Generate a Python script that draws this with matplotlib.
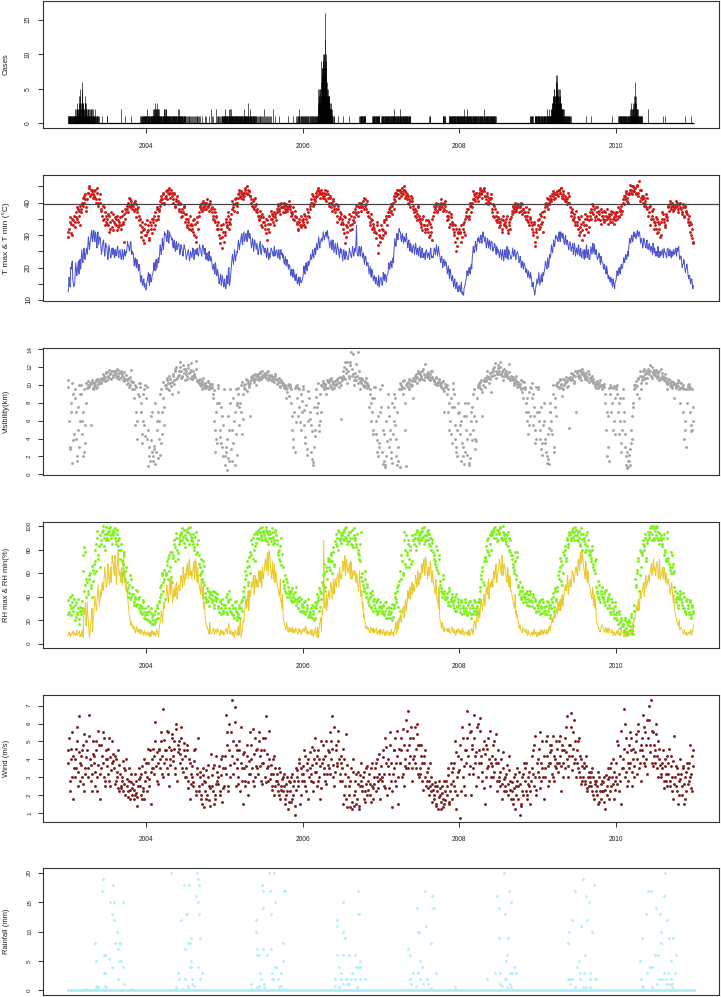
import matplotlib
matplotlib.use('Agg')
import matplotlib.pyplot as plt
import matplotlib.dates as mdates
import numpy as np
import pandas as pd

plt.rcParams['font.family'] = ['Liberation Sans', 'DejaVu Sans']

years = list(range(2003, 2011))
days_a = [3, 8, 13, 18, 23, 28]     # first set of readings kept per month
days_b = [1, 6, 11, 16, 21, 26]     # second set
tick_years = [2004, 2006, 2008, 2010]

# daily case counts, one string per month, one char per day (base 36), missing days = 0
case_months = {
    2003: ["1101101110110101101110110111011", "1121011212132121124213215314",
           "2132413563213212124131332121211", "121112112012110121120121111210",
           "1101201011010010110100100010000", "00000001", "0101", "",
           "002000000000000000000001", "000000000000000000000001", "",
           "0001001010011010110101101011011"],
    2004: ["1101201101101101011011110110101", "11212112301212212131021212112",
           "1101101011010110110101120212112", "210110110101101011010110110110",
           "1011010110101101011010110121011", "102011010110101101011010110101",
           "0100010010001000100100010001000", "0010001000100010001000100010010",
           "000100000100001000000000000001", "0000001000000000000001000000020",
           "000100001000000000000200010001", "0100010001000100011011011011011"],
    2005: ["1211011011101101101121010112011", "2110110110110110111011011011",
           "1101101101011011010110111011011", "112110110111011013101101101101",
           "2101101010110101101001010100100", "010001000100010010010001001000",
           "0000200010001000100010000100010", "0001000000000020000000001",
           "000000000100", "0000000000000000000001",
           "000000000000001000000000000010", "0001001010010201001010100101001"],
    2006: ["0101001010010100101001010010100", "1010010100101001010010100101",
           "0100101011123524354325453469578", "7896a89a7a8796gc8a974546445434",
           "4434323222312121101010010001", "00000000000100", "000000001", "001",
           "0000000000000000000001011010110", "1101011010110101101",
           "0000000000000000000101101011011", "1011010110101101011010110"],
    2007: ["0101101011010110101101011010110", "1101101011010110101101011012",
           "1011010110101101011010110101021", "101101011010110101101011010110",
           "1011010110101101010", "", "", "0000000000001011", "",
           "0000000000000001011010110100000", "000000000000011010110110101101",
           "1011011010110110101101101011011"],
    2008: ["1101101011011010110121011011010", "10110121101101011011011011010",
           "1011010110101101011011010110100", "010110110101101011010102011010",
           "1011010110101101011010110101101", "10110101101011010100", "", "", "", "",
           "000000000000000000000000010110", "1011010100000000110101101101011"],
    2009: ["1011010110101101011010110101101", "1011010110112101101101121011",
           "1121213232324345344542434657647", "654543432543543432323222121212",
           "1211011010110101101011010110101", "101", "", "0000000000000001",
           "00000001", "", "", "00000000000001"],
    2010: ["0000000000101101011010110101101", "1011010110101101011010110101",
           "1011010121121312121213213141324", "634231212121121011011010110110",
           "0101000000000000000000000000002", "", "", "0000001000000000000100000000000",
           "", "", "0000000000000000000010000000000", "0000000000000000001000000000000"],
}

# each block: one line per year, 12 months x 6 readings
tmax_a = """
31 34 30.5 35 33 36  34 37 35 38 36 33  38 40 39 42 41 38.5  43 44.5 42 44 43.5 42.5  42 44 41 43 40 42.5  38 36 39 35 37 34  35 33 36 32 34.5 31.5  34 35.5 33 36 32.5 34  33 36 34 28 35 37  38 40 39 41 39.5 38  40 38 39.5 37 38.5 36  33 31 34 28.5 32 30
31 33 29 34 32 35  34 36 33 38 35 37.5  39 41 40 42.5 39.5 41.5  42 44 43 44.5 41.5 43  41 42.5 39 40.5 42 39.5  38 39.5 37 36 38.5 36.5  35 33 34 32 36 33.5  33 31 35 28 34 32  37 39 38 40 38.5 39.5  39 40 38.5 39.5 40.5 38  37 35 38 34 36 33  32 29 33 26 31 28
31 34 33 36 32 35  38 39.5 37.5 41 40 39  41.5 43 42 43.5 42.5 41  43 44.5 42.5 44 43.5 42  41 39 40.5 38 41.5 39.5  37 35 36 33 36.5 34  34 32 35 28.5 33.5 31  35 36.5 34 37 35.5 34.5  38 39 37.5 39.5 38.5 37  39 38 39.5 37.5 38.5 39  38 36 37 35 37.5 35.5  34 32 35 33 32.5 34.5
35 33 36 34 37 35.5  39 41 40 42 39.5 41.5  42 43.5 44 42.5 43 44  42 43 41 42.5 43.5 41.5  40 41.5 38.5 39.5 41 38  38 36 39 35 37 36.5  34 32 36 27.5 33 31  35 33 36 32 34.5 35.5  37 39 36 38.5 39.5 37.5  39 40.5 38 41 39.5 37  36 34 35 32 33.5 31  31 29 33 24.5 30 28
32 30 34 31 35 33  37 36 38.5 37.5 39 38  41 43 42 44 42.5 43.5  43 44.5 42.5 44 43.5 42  41 42 39.5 40.5 41.5 39  37 38 35.5 36.5 38.5 35  34 32.5 35 33 32 34.5  33 31 34 30 32.5 28.5  37 38.5 39 37.5 39.5 38  39 40 38.5 39.5 38 40.5  36 35 37 33.5 36.5 34  32 30 33 25 29 31
31 33 29.5 32 34 30  36 38 35 39 37 38.5  41 42.5 40.5 43 41.5 42  43 44 42.5 43.5 44.5 42  41 42 40.5 41.5 40 42.5  38 36 39 34.5 37 35  34 33 35 32 34.5 33.5  33 35 31.5 34 32 35.5  37.5 38.5 37 39 38 39.5  38.5 39 37.5 39.5 38 37  37 35 36 34 38 35.5  33 31 34 26.5 32 29.5
33 35 32.5 36 34 35.5  38.5 40 39 41 39.5 40.5  41 42.5 42 43 41.5 42.5  42.5 44 43 44.5 42 43.5  41 42 40.5 41.5 40 42  37 38 35 36.5 34 37.5  34 32 35 31 33.5 28.5  33 35 32 36 31 34.5  36 38 37 39 35.5 38.5  37 35 36.5 34.5 38 36  36 34 37 35 33.5 36.5  35 36.5 34 37 35.5 34.5
36 37 35.5 38 36.5 37.5  40 42 41 43 40.5 42.5  42.5 44 43 45 43.5 44.5  43 45 42 46.5 44 41.5  41 42 39 40.5 38.5 41.5  37 39 35 36 38 34  34 32 35 31 33.5 30  35 36.5 34 33 36 35.5  38.5 39.5 38 40 39 38.5  39 38.5 40 38 39.5 38.5  37 38.5 36 39 37.5 36.5  35 33 34 30 32 28
"""
tmax_b = """
29.5 32 35.5 33.5 30 34.5  32.5 35.5 38.5 34 37.5 39  37 39.5 41.5 40 42.5 37.5  41 43 45 42.5 44 41.5  43.5 41.5 40 44.5 39 41  40 37.5 34.5 38.5 33 36  33.5 36.5 31 34 37 32.5  36.5 33.5 35 31.5 34.5 33  35.5 32 37.5 33.5 36.5 38  39 37 41.5 38.5 40.5 39  39 37.5 40.5 35.5 38 34.5  35 29.5 32.5 31.5 27.5 33.5
30 34.5 31.5 28.5 33 30.5  35 32 37 34.5 38.5 36  38 40.5 42 41 43 40  43.5 41 44 42.5 43 44  42 40 43 38.5 41 40.5  37.5 40 35.5 38 37 39  34 36.5 32.5 35 33 31.5  32 34.5 30 33.5 29.5 35.5  36 38.5 39.5 37.5 40.5 38  40 38 41 39 37.5 39.5  38.5 36 34.5 37 35.5 32  34 30 27.5 32 29.5 33.5
30 35 32.5 37 34 33.5  36.5 40.5 38.5 39.5 41.5 37  40 42.5 44 41.5 43 42  42 44 43 45 42.5 43.5  42 40 38.5 41 39 37.5  38 36 34.5 37.5 35.5 32.5  35.5 33 30.5 34.5 32 36  33.5 37.5 35 36 33 36.5  37 39.5 38 36.5 40 38.5  38.5 40 37 39 38 40.5  39 37 36.5 38.5 34.5 36  35.5 33.5 31.5 34 36 33
34 36.5 32.5 35 38 36  38 40 42.5 39 41 40.5  43 42 44.5 43.5 41.5 42.5  43 41.5 42 44 40.5 42.5  39 42 40 37.5 40.5 39  37 39.5 34 38 35.5 33.5  35 33.5 30.5 35.5 29.5 32.5  34 36.5 31.5 33.5 37 34  38 36.5 39 37 40 38.5  40 38.5 41.5 39 38 40.5  37 35.5 33 36.5 34.5 32.5  32 30.5 34 27 31.5 29.5
33 29 31.5 34.5 30.5 36  36 38 37 39.5 36.5 40  42 40.5 43 42.5 44 41.5  44 42 43.5 45 41.5 43  42.5 40 41 38.5 42 40.5  38 36 37.5 34.5 39 36  35 33.5 31.5 36 33 31  32 34.5 29.5 33.5 31 35  36 39 38 40 37 38.5  38 41 39.5 37.5 40 39  37.5 34.5 36 32.5 35.5 33  33.5 31 28 32 26.5 30.5
32 30.5 28 33.5 31 35  37 35.5 38 36 40 39  40 43.5 41 42 43 40.5  42 44.5 43 41.5 44 43.5  42 40 43 39.5 41 41.5  37 39.5 35.5 38 36 34  35.5 32.5 34 31 36 33  34 32.5 36 30.5 33 35  36.5 39 38 40 37.5 38.5  39.5 37 38.5 40 36.5 38  36 38.5 34.5 37 33 35  34 32 30 33.5 28 31
34.5 32 36.5 33.5 37 31  37.5 39.5 41.5 38 40 41  42 40.5 43.5 41 42.5 43  43.5 42 44 43 44.5 41.5  42.5 40.5 41 39.5 43 40  38.5 36 37 34.5 35.5 33  33 35.5 30 32.5 36 31.5  34 30 36.5 33 35 32.5  37 35 39.5 36.5 38 34.5  36 38.5 35 37.5 33.5 37  35 37.5 34.5 36 38 35.5  36 34 37.5 35 33.5 36.5
37 35 38.5 36 37.5 39  41 39.5 42 43.5 41.5 40  43 45.5 44 42.5 45 43.5  44.5 42.5 45.5 43 40.5 44  42 40 41.5 39.5 42.5 38  36 38.5 33 37.5 35 32  33 35.5 30.5 34 32 29.5  34 37 35 32.5 36.5 34.5  39 37.5 40.5 38.5 39.5 37.5  38 40.5 39 37 39.5 40  38 36.5 39.5 35.5 38.5 37  34 36 31 33.5 29 27.5
"""

tmin_a = """
13 15 20 21 16 14  18 20 19 22 21 20  22 24 23 25 24 26  26 28 27 30 29 31  29 31 28 30 27 29.5  27 25 28 26 24.5 26.5  25 24 26 23 25.5 24  24 25.5 23.5 26 24 25  24 23 24.5 23.5 24 25  26 27 25.5 27.5 26 25  23 22 21 22.5 20 21  18 17 15 16 14 13.5
15 17 16 18 15.5 17.5  19 20 21 19.5 22 21.5  24 26 25 28 27 30  29 30 28 31 29.5 28.5  27 28 26 27.5 25.5 27  26 25 26.5 24.5 25.5 26  24.5 23.5 25 24 23 24.5  24 25 23.5 24.5 25.5 24  25 26 24.5 25.5 26.5 24  25 24 23 24.5 22.5 23.5  21 20 19 21.5 18 19.5  17 16 18 15 16.5 14
15 14 16 19 14.5 17  22 23 22.5 24 23.5 25  26 27.5 27 29 28 30  28 30 29 31 29.5 30.5  28 27 28.5 26 27.5 25.5  26 25 27 24.5 25.5 26.5  25 26 24 25.5 23.5 24.5  24.5 25.5 24 25 23.5 25  24 24.5 23.5 25 24 23  22.5 22 21 22.5 20.5 21  19 18.5 18 19.5 17 17.5  16.5 16 15.5 17 15.3 16
18 19 20 19.5 21 20.5  22 23 24 23.5 24.5 25  25 26.5 27 28 27.5 29  29 30 29.5 31 30.5 29  28 27 28.5 26.5 27.5 25.5  26 25 26.5 24 25.5 24.5  24 23.5 24.5 23 24 22.5  24 25 23.5 24.5 25.5 24  25 33 24 25.5 24.5 26  25 24 22 23.5 22.5 21.5  20 19 18 19.5 17.5 17  16 17 15 15.5 14 16.5
16 15 17 18 16.5 17.5  19 20 21 20.5 22 21.5  26 28 27.5 29 30 31  29 30 28.5 29.5 28 30.5  27 28 26.5 27.5 25.5 26  26 25.5 26.5 25 24.5 26  25 24.5 25.5 24 23.5 25  24 24.5 23.5 25 24 23.5  24.5 25.5 25 26 24.5 25  23 22.5 22 21.5 21 22  20 19 18.5 19.5 17.5 17  15.5 16 14.5 15 13.5 14
13 14.5 12 11.5 13.5 15  17 18 19 18.5 20 19.5  24 25 26 27 26.5 28  28 29 28.5 30 29.5 28  28 27 28.5 27.5 26.5 28  27 26 27.5 25.5 26.5 24.5  24.5 24 25 23.5 24.5 23  24 25 23 25.5 24 22.5  24 25 24.5 23.5 24 25  23 22 22.5 21 20.5 21.5  20 19.5 18 19 17.5 18.5  16 15 13.5 11.5 14 16.5
16 17 15.5 18 16.5 17.5  20 21 19.5 22 21.5 23  24 26 25.5 27 28 29  28.5 30 29 31 29.5 30.5  28 29 27.5 28.5 26.5 27  27 26 27.5 25 26.5 24.5  25 26 24.5 25.5 23.5 24.5  24 25.5 23 26 24.5 22.5  24 25.5 26 24.5 27 25  24 23 24.5 22 23.5 21.5  20 21 19 20.5 18 17.5  16 17 15 16.5 14.5 15.5
17 18 19 18.5 20 19.5  21 22 23 22.5 24 23.5  27 28 29 28.5 30 29.5  29 30.5 30 31 29.5 28.5  28 27 28.5 26.5 27.5 26  27 25.5 26.5 25 27.5 24.5  24.5 25 23.5 25.5 24 23.5  25 24 26 24.5 23.5 25.5  24.5 25.5 24 25 23.5 24.5  25 24.5 26 25.5 24 23.5  22 21 22.5 20 19.5 21  18 17.5 16 16.5 15 14.5
"""
tmin_b = """
12.5 17 14 19.5 22 15  15 21.5 17.5 20.5 18 22.5  19.5 25.5 21.5 26 22.5 24.5  24 29.5 25.5 28.5 31.5 28  31.5 28 30.5 26 31 28  29 24 27 28.5 23.5 27.5  26.5 22.5 27 24.5 23 26  26 23 25 24.5 26.5 23  25.5 22.5 25.5 22.5 25.5 23.5  24.5 28 26.5 25 28 24  24.5 20.5 23 20 21.5 19  20 15.5 17.5 14.5 16.5 15
13 16 18.5 14.5 17 16  18 21.5 19 22.5 20.5 23  22.5 27 24 29 25.5 31  30.5 28 31.5 27.5 30 29.5  29 26 28.5 25 28 26  27.5 24 27 25.5 23.5 27  25.5 22.5 24 25.5 22 25  23 26 22.5 25.5 24 26  23.5 27 25.5 23.5 27 25  26 22.5 24.5 22 25 22  22.5 19.5 21 18 20.5 17.5  18.5 15 17 14.5 17.5 15.5
16.5 13.5 17.5 15 20 15.5  20 24 21 25.5 22 24  24.5 28.5 25.5 28 30.5 27  31 28.5 30.5 28 31.5 29  29.5 26 29 25 28.5 27  27.5 24 26 28 24 27  26.5 24.5 25.5 23 26 22.5  23 26 25 23.5 26.5 24  25.5 23 25.5 22.5 25.5 24.5  24 21 23.5 20.5 22 19.5  20.5 17.5 19.5 17 18.5 16  18 15 17 14.5 16.5 15.5
17 20.5 18 21.5 19 22  21.5 24 22.5 25.5 23 26  24 27.5 25.5 29.5 26 28.5  28 31 28.5 30 29.5 31.5  29.5 26 28 25.5 28.5 24.5  27.5 24 27.5 25.5 23 26  25.5 22 25.5 22.5 25 23.5  22.5 26 24.5 23 26.5 23.5  26 28 24.5 23.5 26.5 23.5  26.5 23 24.5 21 23.5 20.5  21.5 18 20.5 17 19 16  17.5 15 16.5 14.5 17.5 15
17 14.5 18.5 16 17.5 15.5  18 21.5 19.5 22 20 23  24 29 26.5 30.5 28.5 32  31 28 30.5 27.5 29 28.5  29 26 28.5 25 27 24.5  27 24 27.5 24 26 23.5  26.5 23 26 23 24.5 22.5  25.5 23 24.5 22.5 26 23  23 26 24 27 23.5 26.5  24 21.5 23.5 20 22.5 20.5  21.5 18 20.5 16.5 19 16  17.5 14 16.5 13.5 15.5 12.5
14.5 12.5 15.5 12.5 11.5 14  16 19 17.5 20 18 21  22.5 26.5 24.5 28 25 29  29.5 27.5 30 27.5 31 29  29.5 26 29 26 28.5 25.5  28 25 26 27 24 26  25.5 23 25.5 22.5 25.5 22  25.5 23 26.5 22.5 25 23.5  23 26 23.5 25.5 22.5 24.5  24 21.5 23.5 20 22 19.5  21 18.5 19.5 17 18 16.5  17.5 14 15.5 12.5 13 15
15 18.5 14.5 17 15.5 18.5  19 22 20.5 23 20 24  23 27 24.5 28.5 26.5 30  29.5 28 31 28 30.5 29  29.5 27 30 27 28 25.5  28 25 26.5 24 27.5 23.5  26 24 27 23.5 26 23  25.5 22.5 24.5 27 23 25.5  22.5 26.5 24 27.5 25.5 24  25.5 22.5 23 24 21 22.5  21.5 19.5 20 18 19.5 16.5  17 15.5 16 14 15.5 13.5
16 19 17.5 20 18 21  20 23 21.5 24 23 25  25.5 29 27.5 30 28 31  30.5 29 31.5 29.5 31 27.5  29 26 29 27.5 26 28.5  25.5 27.5 25 26.5 24 26  26 23.5 24.5 26.5 23 25  24 25.5 23 25 24.5 23  26 23.5 25.5 23 24.5 25.5  24 26 23.5 25 26.5 22.5  23.5 20 21 22 18.5 20  19.5 16.5 17.5 15 16.5 13.5
"""

vis_a = """
10.5 3 7 1.3 9 4.5  9.5 7 2 5 10 6  10 6 2 9.5 3.5 8  10 9.8 10.2 5.5 10.5 9.5  10.2 10 10.5 9.8 10.4 10.6  10.2 10.8 10.5 11 10.4 11.3  10.5 11 10.8 11.3 11.6 11.1  11.2 11.5 11 10.8 11.7 11.3  11.3 11 10.5 11.4 10.7 11.1  10.5 10.2 10.8 10 11.7 10.3  9.5 10 7 4 9 10.2  9.8 8 4.5 6 9.5 4.3
9.8 5 3 1.5 6.5 2.5  2 2.8 1.2 6 7 4  9 3.5 7 8.5 5.5 10  10 10.5 9.5 11 10.2 9  11 10.5 11.5 12 10.8 9.2  11.5 12.5 10.8 11 11.8 10.5  11.5 11 12.2 11.3 10.8 11.7  11 10.8 11.2 12.7 10.5 10.3  10.5 10 10.2 9.5 10.8 9.8  10 9.8 10.3 9.5 10 9.7  9.8 9 6 2.5 4 8  10 5 3.5 6.5 2 9.5
2 3 0.5 1.8 5 8  1.5 3.5 6 7 9.5 2.2  9 7.5 8 10 4.5 6.2  10 9.5 10.5 10.2 9.8 6.5  10.5 11 10.8 10.3 11.2 10  11 10.5 11.3 10.8 11.5 11.1  11.2 11 10.8 11.4 10.5 11.1  11 10.5 10.8 10.3 11.2 10.6  10.5 10.2 10.8 9.8 10.3 10  9.8 10 9.5 9.2 10 8.8  10 9.5 6.5 4 2.5 5.8  10 9.7 7.5 5.8 9 7
9.5 7.2 4.2 2.8 6 8.5  7 5.5 1.7 1 3 4.3  9.5 7.5 8 4.8 6 10  10.2 9.8 10 9 10.5 9.6  10.5 10 10.8 9.5 10.2 10  10 10.5 10.8 9.8 10.3 6.2  10.5 11 10.8 12.5 11.8 10.2  11 12.5 13.7 11.8 11.2 10  11.3 10.5 13.7 10.8 9.5 10.8  10.5 10 9.8 10.3 10 10.2  10 9.5 8 7 5 9.8  9.8 6 3.8 2 3.5 7
10 5 1.5 0.8 2 3.7  9 6.5 4 2.5 1.3 6  7.5 8.5 4 1 3 0.8  10 9.8 9 10.5 5 0.9  10 10.3 9.5 10.5 10 8.5  10.5 11 10.8 10.2 11.5 10.6  11.2 10.8 11.5 10.5 12.3 11  11.2 10.8 11 10.5 10.8 11.5  10.5 10.2 10.8 10 10.3 10.6  10 9.8 10.3 9.5 7 9.8  10 9.5 8 6 4.5 7.5  10.2 9 5.5 3 2 6.8
5.5 6 3.5 2 1.2 8  6.5 4 1.3 1.8 7 3.8  9 6.5 4 3.7 8.5 10  10 10.3 9.5 6.5 10.5 9.8  10.5 11 10.8 10.2 11.3 9.2  11 11.5 12 10.8 11.3 12.2  11.5 12.5 11.2 11 10.5 11.8  11.3 11 10.8 12.3 10.5 11  10.8 10.5 10 10.3 11 9.8  10 9.8 10.5 9.2 8.5 10.3  9.5 8 6 7 5.5 9.8  10.2 9 6.5 5 4 7
9.5 7 5 2.8 3.5 8  4 2.5 1.3 1.7 5.2 7  6 4.5 9 3 7.5 10  10.2 9.8 10.5 10 8.8 9.5  10 10.5 10.3 9.8 10.8 5.2  10.5 10.8 11.2 10.2 11 7  11.5 11 10.8 11.7 10.5 11.2  11.2 10.8 11 10.5 11.5 10.3  10.8 10.5 11 10.2 10 9.6  10.3 10 9.8 10.5 10 9.5  10 9.8 9 7 3 1.5  10 9.8 8 9.6 6 4.5
9.5 10 8 6 3.5 5  9.5 7 4.5 2 0.7 1.5  2.2 1 3.5 6.5 8 9.5  10 9 10.8 8.5 11.5 10.2  10.5 11 11.8 10.8 10.2 11.3  11.5 12.2 11 10.8 11.3 11.7  11.5 11 10.8 11.3 10.5 11.8  11 10.8 10.5 11.2 10.3 9.5  10.5 10.2 10 9.8 10.3 8.5  10 9.8 10.2 10.5 9.5 8  9.8 10 9.5 5 3 8  10 9.5 9.8 5.5 5 7.5
"""
vis_b = """
9.8 6 2.8 8 10.2 3.8  8.5 4 1.5 7.5 3 9  9 4.5 7 2.5 5.5 10.2  9.6 10.4 9.9 10.1 10.3 9.7  9.9 10.3 9.6 10.7 10.1 10.2  10.6 10.3 11.2 10.7 10.9 11.4  11.4 10.9 11.7 11.2 10.6 11.5  10.9 11.6 11.3 11.8 11 10.7  10.8 11.6 11.2 10.9 10.4 10.6  10.1 10.6 9.8 10.9 10.4 9.5  10.3 8.5 5.5 9.8 6 8.8  10.2 7 3.5 9 5.5 10
8.5 4 0.9 2 3.8 7  1.5 3.2 8 2.5 5 1.8  6 2.2 9.5 4.5 10.3 7.5  9.7 10.8 10.2 9.4 10.6 9.9  10.3 11.2 10.1 11.8 10.6 11  11.1 12 11.6 10.9 12.2 11.3  11.8 11.2 10.6 11.9 11.4 12.4  10.6 11.5 11.1 10.9 11.8 10.4  10.2 10.6 9.9 10.4 10.1 9.6  10.2 9.6 9.9 10.4 9.8 10.1  10.1 8.5 9.4 5 7 3.5  9.6 8 4.2 7.5 3 5.5
1 2.5 4 6.5 1.5 9.5  2.8 5 8.5 1 4.5 7.8  8 9.6 5.5 7 10.3 9  9.7 10.1 10.6 9.3 10.4 10  10.2 10.9 11.1 10.5 10.7 11  10.7 11.2 10.9 11.4 10.6 11  10.9 11.3 11.1 10.7 11.5 10.9  10.7 11.1 10.4 10.9 10.6 11  10.1 10.6 10.3 9.9 10.5 10.2  10.2 9.6 9.9 8.5 9.7 10.1  9.8 8 5 3 7 9.6  9.9 8.5 6.5 9.5 5 8.2
9.9 5.5 3.5 7.8 2.2 9.3  6.2 2.5 4.8 1.4 7.5 5  8.6 6.8 10.2 5.5 9 7  9.9 10.4 9.5 10.1 9.7 10.3  10.3 10.6 9.8 10.4 10.1 9.7  10.4 10.1 10.6 10.2 10.9 10  10.8 11.5 12 10.6 11.3 12.6  11.5 10.8 12.2 11 13.5 10.5  10.9 12.3 11 10.2 11.5 10.4  10.2 10.6 9.9 10.4 10.8 9.7  9.8 7.5 9 6 8.5 4.5  8.5 4.5 2.5 6.5 3 9.5
7.5 2.5 1.2 4.5 1 6  7.5 3 5 1.8 8 4.5  9 5.5 2 7 1.5 9.5  10.2 9.5 10.4 9.7 8 10  10.2 9.8 10.6 10.1 9.9 10.4  10.8 10.4 11.2 10.9 11.3 10.5  11.4 11 10.7 11.8 11.2 10.9  11 11.4 10.7 11.2 11.6 10.9  10.7 10.4 10.1 10.9 10.2 10.5  10.2 10 9.6 10.4 9.3 10.1  9.8 9 7 5 8.5 3.5  9.5 7.5 4 2.5 5 8
7 4.5 1.5 3 6.5 2.5  5 2.2 8 1 4.5 6  7.5 5 9.5 2.8 6 9.8  10.2 9.7 10.5 9.2 10 10.4  10.8 10.4 11.5 10.9 10.6 11  11.4 11.8 11.1 12.4 11.6 11.2  11.9 11.2 12 11.4 11.7 11  11.1 11.6 11.2 10.9 11.4 10.7  10.6 10.9 10.2 10.7 10.4 10.1  10.3 9.9 10.1 9.5 10.4 9.7  9.8 7 8.5 4.5 9.2 6.5  9.6 8.5 5.5 7.5 3.5 9.8
9.8 6 4 7.5 2.2 5.5  6 3.5 2 4.5 1.2 8  7 5 10 2.5 8.5 6.5  9.9 10.3 9.6 10.6 10.1 9.7  10.6 10.2 10.9 10.4 9.9 10.7  10.9 11.3 10.7 11.1 10.4 11.5  11.3 11.6 11.1 10.9 11.4 11.8  11.4 11 10.7 11.3 10.9 11.2  10.6 10.9 10.4 10.7 10.3 9.9  10.1 10.4 9.7 10.2 9.9 10  9.9 10.1 8 5 2 6.5  9.7 9 7 5 9.9 8.5
9.8 9 7 4.5 8.5 2.5  8.5 6 3 1 2.5 0.8  1.5 2.8 5 4 7.5 10  9.6 10.4 9.9 10.6 11 9.5  10.9 11.5 10.6 11.2 11.6 10.8  11.8 11.2 11.6 12 11.4 11.1  11.2 11.7 11.4 11 11.6 10.8  10.6 11.3 10.9 10.5 10.8 10.1  10.2 10.7 9.9 10.4 9.6 10.1  10.2 9.7 10 9.9 10.3 9.6  10.2 9.7 7 4 6 9.5  9.8 10.1 7 4.8 9.5 6
"""

rhmax_a = """
25 40 30 35 28 38  20 35 25 30 17 28  25 30 75 82 50 40  45 55 60 50 40 63  60 70 85 96 75 65  85 95 100 90 80 88  90 95 98 92 85 97  95 90 85 97 88 80  80 70 60 75 55 65  45 40 50 38 55 42  35 40 32 45 38 30  28 32 25 35 22 30
25 20 28 18 30 23  20 25 18 30 22 35  40 50 60 45 55 38  60 70 55 75 65 52  75 85 70 90 80 72  85 92 95 88 97 82  90 95 98 85 93 88  90 85 80 95 78 88  75 65 60 55 70 50  40 35 45 32 42 38  35 45 30 40 38 42  30 35 25 38 28 33
30 40 25 35 45 28  25 30 22 35 28 20  25 30 22 35 28 40  40 55 65 50 74 60  75 85 90 80 70 95  90 95 98 92 88 96  92 88 97 95 85 90  90 95 85 88 97 92  85 75 80 70 90 65  50 45 55 40 48 42  40 45 35 42 38 48  35 30 40 28 38 32
28 35 25 30 38 24  25 30 22 28 20 35  30 35 40 28 45 38  50 60 45 65 55 70  65 70 75 60 78 68  85 90 80 95 88 92  92 95 88 98 90 85  95 90 85 97 82 92  90 85 80 75 70 95  60 50 45 55 40 48  35 40 30 45 28 38  30 35 25 38 28 32
28 32 25 35 22 30  22 28 25 30 20 33  30 40 35 45 50 28  55 70 60 95 80 65  75 85 65 80 70 88  85 90 80 95 88 92  95 90 98 85 92 88  92 97 85 90 80 88  75 70 65 80 60 72  50 45 40 55 42 38  40 35 45 32 38 42  35 30 40 28 32 38
30 35 25 32 28 38  28 25 35 30 22 33  30 28 35 25 32 27  35 45 55 65 50 74  70 80 90 75 85 95  92 95 98 90 97 88  95 98 90 88 100 92  90 85 95 80 88 75  75 65 60 70 55 78  50 45 40 48 35 42  40 35 45 38 32 42  35 40 30 38 28 33
30 35 25 32 38 28  28 32 25 35 30 22  30 35 40 28 45 38  45 55 65 70 50 60  75 80 70 88 85 92  90 95 98 88 92 97  88 95 90 85 98 80  90 85 80 95 88 75  75 70 80 65 60 72  45 40 50 35 42 48  40 35 45 30 38 42  30 25 35 28 22 32
25 20 28 18 22 15  15 12 20 10 18 8  20 15 25 12 8 28  50 60 70 45 80 65  75 85 80 90 70 88  92 95 100 88 98 90  98 100 90 95 85 92  85 90 75 80 70 95  70 65 60 75 68 62  45 35 40 30 38 42  35 30 40 28 25 38  30 25 35 22 33 28
"""
rhmax_b = """
37 27 33 24 41 31  33 23 27 38 21 31  28 36 62 45 78 55  52 42 58 47 66 53  68 80 62 90 72 83  92 88 97 83 93 99  93 88 96 99 90 94  92 98 87 93 83 90  72 85 58 68 78 62  52 47 43 58 40 48  42 33 38 46 34 40  33 26 30 37 27 24
21 27 32 19 26 17  24 17 28 21 33 26  36 48 42 58 52 63  58 67 73 62 78 57  78 73 88 82 94 77  90 87 93 98 91 86  92 97 88 95 99 91  87 93 82 91 76 85  68 58 72 62 52 66  43 38 47 36 40 44  41 37 33 44 36 39  32 27 36 30 34 26
33 27 42 37 30 38  27 33 24 30 36 23  27 23 33 30 37 45  48 62 58 70 52 66  78 88 72 93 83 86  93 97 89 95 91 99  95 90 99 87 93 96  93 87 98 91 86 95  88 78 72 83 67 76  53 47 58 43 52 45  43 37 47 40 36 44  33 38 30 36 27 34
31 26 36 28 33 23  27 23 33 25 31 22  33 42 37 47 31 43  52 58 68 48 62 73  72 63 77 70 82 66  87 93 83 97 90 86  94 89 97 91 99 87  92 87 95 84 90 98  88 82 93 77 72 85  57 53 47 62 43 51  38 33 43 31 41 36  33 28 37 26 31 35
30 26 33 24 28 35  25 31 22 27 34 23  33 43 38 48 31 53  62 75 58 88 68 92  78 88 72 83 68 92  88 93 83 97 90 86  93 88 96 91 99 87  95 88 93 83 90 86  78 72 68 83 63 75  53 47 43 58 45 40  38 43 33 47 36 40  33 37 28 42 31 35
33 27 37 30 26 35  30 24 33 27 36 25  33 25 37 28 30 35  38 48 58 62 52 70  73 83 88 78 92 80  94 97 90 99 93 87  97 93 99 90 95 89  93 87 92 83 90 78  72 68 63 78 58 74  48 42 52 38 45 40  38 43 33 41 36 45  37 32 42 30 36 27
33 28 37 30 26 35  31 25 36 28 33 24  33 38 43 31 47 36  48 58 62 73 53 67  78 83 73 90 82 95  93 88 97 91 95 99  92 87 96 83 93 89  93 87 78 92 83 80  78 73 83 68 63 70  48 43 53 38 45 40  38 43 33 46 36 40  33 27 38 30 25 35
22 27 17 25 13 20  17 10 22 13 7 16  18 12 23 9 15 33  55 48 63 73 58 78  78 88 83 93 73 86  95 90 98 93 100 88  96 92 99 88 94 90  88 83 93 78 72 90  73 68 63 78 65 60  48 38 43 33 40 45  38 33 43 30 27 36  33 27 37 24 31 26
"""

rhmin_a = """
8 9 7 8 10 7  8 10 7 9 11 8  6 8 5 25 35 20  25 12 8 20 30 18  30 35 28 40 45 32  40 50 45 55 60 48  55 60 50 65 58 70  60 75 55 65 80 58  55 65 50 78 60 45  45 35 25 20 18 15  15 12 10 13 11 9  10 12 9 8 11 9
9 8 7 10 6 8  8 10 7 12 9 6  15 20 25 18 30 35  40 45 35 50 42 55  35 45 40 50 38 48  45 50 55 48 60 52  55 65 60 70 58 62  60 68 55 72 58 65  50 45 55 40 48 35  20 15 12 10 18 9  10 12 8 11 9 13  10 8 12 9 11 7
10 12 8 15 9 11  8 10 6 12 9 7  12 7 18 5 10 20  25 35 30 40 28 45  45 50 55 42 58 48  50 60 55 62 48 58  60 70 65 75 58 80  65 55 70 60 52 62  50 45 40 55 38 42  20 15 12 18 10 14  12 10 14 11 9 13  11 9 13 10 8 12
12 10 15 9 11 8  10 8 12 6 9 14  8 12 5 15 20 10  25 88 30 35 28 40  40 45 50 38 55 48  50 55 60 48 62 58  60 65 70 58 72 62  65 60 70 55 62 58  55 60 50 45 62 40  45 35 25 18 15 12  12 10 14 11 9 13  10 12 8 11 9 7
10 8 12 9 7 11  8 10 7 12 9 6  10 15 8 20 12 18  20 25 30 22 35 28  35 40 45 38 50 42  45 50 55 48 58 52  55 65 60 70 58 74  65 60 58 70 55 62  50 45 55 40 38 48  20 15 18 12 14 11  12 10 13 9 11 14  10 12 8 11 9 13
9 11 8 12 7 10  8 10 12 7 9 11  10 15 20 12 25 18  25 30 35 28 40 32  40 45 50 38 52 48  50 58 55 65 52 60  65 70 60 75 58 68  60 55 65 50 58 45  40 35 30 42 28 25  18 15 12 10 14 11  10 12 8 11 9 7  9 7 11 8 10 6
8 10 7 9 11 8  10 8 12 9 14 11  15 20 18 25 22 28  25 30 35 28 40 32  40 48 45 55 42 52  50 55 60 52 58 62  60 70 65 75 68 80  65 58 70 55 62 50  45 40 48 35 42 38  18 15 12 10 14 16  12 10 14 9 11 13  11 9 12 8 10 7
10 8 12 9 7 11  8 6 10 9 7 11  9 12 7 15 10 20  25 30 35 28 40 38  45 50 40 55 48 52  55 60 65 58 70 62  60 65 70 55 72 58  62 58 65 55 60 50  55 48 45 52 40 42  28 22 18 15 20 14  12 10 8 11 9 7  9 8 10 7 11 16
"""
rhmin_b = """
7 10 6 9 8 11  9 7 11 8 10 6  7 10 12 30 28 15  35 18 5 15 25 10  25 40 32 35 50 38  45 42 52 48 65 55  50 68 55 62 52 75  68 58 70 50 72 62  62 52 58 70 52 50  50 40 30 22 15 17  12 14 9 15 10 12  12 8 11 10 7 10
7 10 9 6 8 11  11 7 9 8 11 8  12 18 28 22 35 30  38 50 40 45 55 48  42 38 48 42 52 40  50 45 58 52 65 50  60 58 68 55 72 60  55 62 70 60 68 52  55 48 42 52 38 30  25 18 15 12 8 14  8 11 13 9 12 10  12 9 7 11 8 10
9 13 10 12 17 8  11 7 9 5 10 8  8 15 10 22 8 15  18 30 38 32 45 35  40 52 48 58 45 55  55 48 62 52 58 65  55 65 72 62 78 70  72 58 65 55 68 55  55 48 42 48 35 30  25 18 14 16 12 10  10 13 11 9 12 10  13 10 8 12 11 9
10 13 11 14 8 10  9 12 7 10 8 12  10 6 14 8 18 22  28 32 38 30 42 35  45 38 52 45 48 42  55 48 58 52 65 55  55 70 62 75 65 68  60 68 55 65 58 62  62 52 58 48 55 48  40 30 22 20 13 15  14 11 9 12 13 10  9 11 13 8 10 12
12 9 11 7 10 8  11 7 9 11 8 10  8 12 18 10 16 22  25 18 28 32 25 38  32 45 38 48 42 52  50 45 58 52 62 50  60 55 68 62 72 60  68 55 65 60 68 52  55 48 42 50 35 30  25 18 13 16 10 12  11 13 10 12 9 11  12 9 11 7 12 10
11 8 10 13 9 8  10 9 7 11 8 13  12 8 18 15 22 28  30 22 38 32 35 42  35 48 42 55 45 52  55 48 62 58 68 55  62 72 65 58 70 62  65 58 52 62 48 55  45 38 32 35 25 22  20 13 16 11 9 12  12 9 11 7 10 8  8 10 7 12 9 8
10 7 9 12 8 10  12 9 11 8 12 15  12 18 22 20 28 25  30 35 28 38 32 42  38 45 50 48 58 45  55 48 62 58 55 65  65 58 72 62 78 70  70 62 55 65 52 58  48 42 38 45 32 30  22 17 14 12 11 15  14 11 12 10 13 9  13 10 9 11 7 9
8 11 10 7 9 12  10 7 9 6 11 8  7 11 9 13 18 22  22 32 28 38 32 45  42 48 52 45 58 50  58 52 62 68 60 72  65 58 68 62 60 55  58 65 55 62 52 58  52 50 42 48 45 35  32 25 20 18 16 12  13 11 9 12 8 10  8 10 9 12 8 10
"""

wind_a = """
4.5 2.8 4 5.5 1.8 3.5  4 3.5 5 2.5 6.4 3.8  4.2 3 4.8 2.2 3.5 5  3.5 6.5 4 2.8 3.2 5  3.8 2.5 4.5 3 5.6 1.8  3.5 4.2 5.5 3 2.8 4.5  4 3.2 5.2 2.5 3.8 4.3  3.5 4.2 2.8 3 4.5 2.2  2.5 3 2.2 3.5 2 4  2.5 2.2 2.8 1.8 3.2 2.4  2.3 2 2.8 1.4 2.5 3.5  2.5 3.2 1.8 2.2 4 2.8
3 3.8 2.5 4.5 1.5 3.5  3.5 4.2 6.1 2.8 3.8 4.5  4 5 3.2 6.8 3.8 4.5  4.5 3.5 5.5 2.5 4 5.2  4.2 5 3.5 6 2.8 4.8  5 4.3 5.8 3.5 4.5 3  3.5 4.8 2.8 4 1.8 3.2  3 2.5 4.5 2.2 3.5 5.2  2.5 3 2 1.5 3.5 2.8  2.2 1.8 3 2.5 1.4 4.3  2.5 3.5 1.5 2 4.2 2.8  3 2.2 4 1.6 3.5 2.5
3.5 6.5 4.8 2.5 6 3  7.3 5 3.8 6.9 2.5 4.5  3 4.5 2.2 5.8 3.5 1.5  3.5 2.8 4.8 2 3.2 5.5  4 3.5 5.7 2.5 3 4.5  3.5 5.5 4.2 2.8 3.8 5.2  4.5 3 6.4 3.5 2.8 4  3.2 2.5 4 2 3.5 2.8  2.8 2.2 3.5 1.8 2.5 3  2.5 1.5 2 3 1.2 2.8  2.2 3 1.8 2.5 0.9 3.5  3 2.5 4 1.5 3.5 2.8
3.2 4.5 2.5 3.8 1.8 3  3.5 2.8 4.7 2.2 4 5.2  3.8 2.5 4.5 3 1.8 5  4 3.5 2.8 5 3.2 4.5  3.5 5.5 4 6.4 3 2.5  4.5 3.8 5 4 2.8 4.2  3.5 1.5 4 2.5 5.4 1.3  2.5 1.3 3.5 1.2 4 2  2.8 1.5 3.3 1.2 2.5 3.8  2.5 3 1.8 2.2 3.5 2  2.8 2 3.5 2.5 1.8 3  3.5 2.2 4 2.8 3.2 1.8
3 4.5 2.5 5.2 3.8 2  4 3.2 5.5 2.8 1.3 4.5  3.5 5.2 2.5 4.2 1.5 3.8  4.5 3 5.7 2.5 4 3.5  4.5 6.7 3.8 5.2 2.8 4  4.2 5.8 3.5 6 4.8 3  3.5 4.2 2.8 3.8 4.5 2.5  2.8 3.5 2 2.5 3 1.6  2 2.5 1.5 2.2 1.2 2.8  2 1.2 2.5 1.8 1.5 2.2  2.5 3.5 1.5 2.2 3.8 1.8  3.5 2.5 5 1.2 3 4.2
0.7 4 5.8 3 2.5 4.5  4.5 6.7 3.2 5.5 2 4.8  3.5 6.5 4.2 2.5 5.8 3  4.5 6.3 3.8 2.8 5 1.5  4.8 3.5 5.2 4 2.5 3.8  4.2 3 5 3.8 2.2 4.5  3 2.5 4 1.8 3.5 2.2  2.5 3.2 2 4.2 2.8 1.8  2.2 1.5 3 1.2 2.5 3.5  2.5 0.9 1.5 3 2 3.8  3.5 2.2 1.8 3 2.5 1.5  3.5 4.5 2.5 5.3 2 3.8
4 3 5.5 2.8 3.5 1.8  3.5 5 4.2 2.5 3.8 4.8  4.5 3.2 5.3 2.8 4 3.5  3.8 5 4.2 2.2 4.5 3  4.5 3.5 5.8 4 3 4.8  6.6 4.2 5.5 3.8 5 3  4.5 3.5 5.2 3 4 2.8  3.5 2.8 4.2 2.2 3 2.5  3 2.5 3.5 2 2.8 2.2  2.5 1.5 3 2.2 1.8 2.8  2.2 3 1.2 2.5 3.5 1.8  3.5 2.5 3 4 1.8 2.8
3 5 2.2 4.2 1.5 3.5  4 6.8 3 5.2 2.5 3.8  3.5 5.5 4.5 2.5 4 3  5 4 6 3.5 4.5 2.8  4.5 6.5 3.8 5.5 4 3.2  7 4.8 7.3 3.8 5.5 4.2  4.5 6 3.5 5 4 3.2  3.5 4.5 2.8 4 3.2 2.5  3.8 2.5 4.2 3 1.8 5.3  3 2.5 3.5 1.5 2.8 4  2.5 3.5 1.5 3 2.2 3.8  3.5 2.8 4.8 3.2 2.2 4.5
"""
wind_b = """
3.8 5.2 2.2 4.6 3 4.2  3 4.6 5.8 3.3 4.4 2.8  3.7 4.5 2.6 5.4 3.2 4.1  4.5 3 5.3 3.7 2.2 4.3  4.2 3.3 5 2.2 3.7 4.8  3.2 4.8 3.8 5.2 2.5 4  3.6 4.6 2.8 4.1 3.4 5  3.9 2.6 4 3.3 2.4 3.7  3.2 2.4 2.8 3.9 2.6 3.4  2.9 1.9 3.5 2.3 2.7 2  2.6 1.8 3.2 2.1 1.9 2.9  3 2 3.6 2.4 1.8 3.3
3.8 2.2 4.6 2.9 3.3 4  4.6 3.2 5 3.6 4.4 2.6  4.6 3.5 5.5 4.2 3 5.1  4 5.6 3.2 4.7 3.7 4.5  5.4 3.9 4.6 3.2 5.7 4.4  4.6 3.8 5.2 4 3.3 4.9  4.2 3 4.5 2.4 3.8 2.6  3.6 2.7 3.9 4.6 2 3.2  2.2 3.3 1.8 2.6 3.1 1.3  2.7 3.4 2 3.7 1.7 2.4  3.1 2.2 3.7 1.8 2.6 3.3  2.6 3.6 2 3.1 4.2 2.4
4.2 3.2 5.5 2.2 4.5 3.7  5.5 4.2 3.2 6.1 4.8 3.5  4 2.6 5 3.8 2.8 4.3  4.4 2.5 3.6 4.2 2.7 3.9  3.2 4.8 2.8 4.3 5.2 3.6  4.6 3.2 5 3.6 4.5 2.6  3.8 5.2 2.7 4.3 3.6 5.6  2.9 3.7 2.3 3.2 4.2 2.5  3.2 2.6 2 3.3 2.3 2.9  2.2 3.2 1.8 2.6 2.2 1.6  2.7 1.6 3.2 2 2.8 1.4  2.3 3.4 2.8 3.8 2 3.2
3.6 2.8 4.2 2.2 3.4 4  4.4 3.2 3.7 2.7 4.5 3.3  3.3 4.2 2.8 4 3.6 2.4  3.8 4.8 3.2 4.2 2.6 3.7  4.4 3.2 5 4.6 3.7 5.8  3.3 4.8 3.6 5.6 3.2 3.8  2.8 4.6 2 3.2 1.8 3.7  3 2 2.8 1.6 3.3 1.4  2.2 3.2 1.8 2.6 1.4 3.1  2.8 2.2 3.3 1.6 2.6 3.6  2.3 3.2 2.6 1.6 3.8 2.4  2.6 3.8 3 2.4 4.3 2.9
3.6 2.8 4.1 3.2 2.4 4.7  3.6 2.4 4.8 3.8 2.2 3.2  4.5 2.8 3.8 5.6 3 4.6  3.8 5.2 3.2 4.8 3.6 6.2  5.6 3.5 4.8 4.2 5.8 3.5  5.2 3.8 4.6 5.4 3.2 4.8  3.2 4.8 3.8 2.3 4.2 3  3.3 2.4 2.8 3.8 2.2 2.6  2.3 1.8 2.7 1.4 2.5 1.9  2.4 1.6 2.1 1.3 2.8 1.7  2.8 2 3.1 1.6 2.6 3.3  2.8 3.8 2.2 4.4 2 3.3
3.4 4.8 2.2 5.2 3.6 2  3.8 5.2 4.2 6 3.6 5.6  4.6 3.2 5.2 3.8 4.4 6  3.8 5.6 4.2 3.3 4.6 2.4  4.3 3 4.6 3.6 5.6 3  3.6 4.8 3.3 4 5.4 2.8  3.8 2.8 3.3 2.6 4.4 2.9  3 2.2 3.7 2.6 3.4 2.3  2.7 1.8 2.4 3.2 2 2.8  1.8 3.3 2.6 1.4 2.2 3.2  2.8 3.8 2 2.6 3.3 2.2  2.8 4.2 3.2 4.8 3 2.3
3.3 4.6 2.4 3.8 5 3  4.2 3 5.3 3.6 2.8 4.4  3.8 4.8 3 4.2 3.6 5  4.6 3.3 3.8 5.3 3.6 4.8  3.8 5.2 4.4 6.4 3.6 4.2  4.8 5.8 3.4 4.6 6.2 4  3.8 5 3.3 4.2 2.6 3.6  3 3.8 2.6 3.6 2.4 3.3  2.7 3.3 2.2 3 1.8 2.6  2.8 2 3.3 1.6 2.6 2.2  2.7 1.6 2.3 3.1 2 2.9  3 2.2 3.8 2.6 3.3 2.3
3.8 2.6 4.8 3.2 2.8 5.6  3.5 4.6 6 3.3 4.4 2.8  4.8 3.8 5.2 3.3 4.6 3.6  4.4 5.4 3.2 5.6 3.8 4.8  5.2 4.2 5.8 3.6 4.8 6.2  5.2 6.2 4.4 5.6 3.6 4.8  3.8 5.4 4.2 3 4.6 3.7  3 3.8 2.4 3.6 2.8 4.2  3.2 4.6 2.8 3.6 2.2 3.9  2.6 3.6 2.2 3.2 2 2.9  3.2 2 3.6 2.6 1.8 3.3  2.6 3.8 3 2.4 4.2 3.6
"""

# rainy days: "day_of_year:mm", every other day is 0
rain_events = {
    2003: "82:0.3 128:8 130:5 131:0.5 137:0.8 140:0.5 161:17 165:19 167:6 169:3 172:6 174:3 175:0.8 177:0.5 190:5.3 197:15 206:13 208:4 213:18 215:15 217:12 219:8 230:10 233:7 236:2 238:8 240:5 242:8 250:5 256:15 259:4 261:1 299:0.2",
    2004: "117:20 140:0.5 151:3 153:2 163:12 171:0.3 179:18 180:7 182:2 187:13 193:13 194:8 196:0.7 197:0.5 201:18 203:8 204:4 209:5 210:9 212:4 214:2 215:1 226:0.8 233:16 240:20 241:19 243:15 244:4 248:18 249:13 251:9 253:2 260:3",
    2005: "124:1 126:0.3 146:12 148:10 150:7 152:6 153:0.5 160:6 161:0.8 167:3 169:2 176:18 178:17 180:14 182:7 183:1 184:0.5 199:6 209:20 211:17 217:13 219:7 220:3 221:2 226:2 232:20 234:15 235:4 241:4 251:2 253:0.5 264:3 266:0.8 271:8 273:5 274:0.3 279:17 281:17 283:0.3",
    2006: "149:2 150:0.8 158:12 160:11 162:6 169:4 171:0.5 179:3 181:2 186:15 188:10 189:6 190:1 198:9 200:2 207:2 209:1 215:6 217:1 226:2 228:3 242:6 244:2 250:4 252:0.5 257:17 259:13 260:4 265:13 266:5 267:4 268:2 289:2",
    2007: "126:7 134:2 137:6 142:1 149:3 165:0.8 168:14 173:3 174:10 180:10 182:2 184:5 190:4 196:1 204:17 212:11 216:2 219:1 232:8 235:0.4 237:16 243:14 247:14 258:3 344:0.5",
    2008: "132:2 166:3 176:16 184:9 187:14 190:1 193:3 202:0.7 209:20 213:2 215:13 219:5 221:2 222:0.5 224:6 230:9 232:17 237:3 238:1 241:15 244:0.5 249:3 258:4 265:3",
    2009: "141:2 143:8 146:2 148:10 151:1 153:2 159:2 163:12 174:17 175:0.5 182:4 193:5 197:3 198:2 202:11 210:19 211:0.5 216:3 221:6 226:16 228:0.5 229:12 241:15 243:0.5 244:3 247:2 254:10 265:18 268:2 275:2",
    2010: "115:5 120:2 123:9 124:0.7 128:0.5 140:13 146:3 152:17 159:4 166:17 167:4 171:0.5 182:6 190:14 191:1 198:6 202:2 205:13 210:10 213:8 218:2 224:16 226:3 229:20 233:2 237:1 240:12 244:3 249:9 252:1 257:2 260:5 261:1 263:0.5 268:9 275:3 280:6",
}


def sample_dates(day_list):
    return pd.to_datetime([f'{y}-{m:02d}-{d:02d}' for y in years
                           for m in range(1, 13) for d in day_list])


def parse_block(txt, name):
    rows = [r.split() for r in txt.strip().splitlines()]
    for y, r in zip(years, rows):
        assert len(r) == 72, f"{name} {y}: {len(r)} values"
    return np.array([float(v) for r in rows for v in r])


def series(txt_a, txt_b, name):
    s = pd.Series(np.concatenate([parse_block(txt_a, name + '_a'), parse_block(txt_b, name + '_b')]),
                  index=sample_dates(days_a).append(sample_dates(days_b)))
    return s.sort_index()


days = pd.date_range('2003-01-01', '2010-12-31', freq='D')

cases = []
for y in years:
    for m, s in enumerate(case_months[y], start=1):
        n = pd.Period(f'{y}-{m:02d}').days_in_month
        cases += [int(c, 36) for c in s.ljust(n, '0')[:n]]
cases = np.array(cases)

rain = np.zeros(len(days))
for y, txt in rain_events.items():
    for item in txt.split():
        d, v = item.split(':')
        when = pd.Timestamp(y, 1, 1) + pd.Timedelta(days=int(d) - 1)
        rain[(when - days[0]).days] = float(v)

tmax = series(tmax_a, tmax_b, 'tmax')
tmin = series(tmin_a, tmin_b, 'tmin')
vis = series(vis_a, vis_b, 'vis')
rhmax = series(rhmax_a, rhmax_b, 'rhmax')
rhmin = series(rhmin_a, rhmin_b, 'rhmin')
wind = series(wind_a, wind_b, 'wind')

# ---------------------------------------------------------------- figure
fig = plt.figure(figsize=(7.21, 9.97), dpi=100)
FW, FH = 721, 997
txtc = '#222222'

d0, d1 = mdates.date2num(days[0]), mdates.date2num(days[-1])
pad = 0.04 * (d1 - d0)
xticks = [mdates.date2num(pd.Timestamp(y, 1, 1)) for y in tick_years]


def panel(top, bot, ylim, yticks, ylabels, ylab, tick_fs=4.6, lab_fs=5.5, xaxis=False):
    ax = fig.add_axes([43 / FW, 1 - bot / FH, 676 / FW, (bot - top) / FH])
    ax.set_xlim(d0 - pad, d1 + pad)
    ax.set_ylim(*ylim)
    for s in ax.spines.values():
        s.set_linewidth(0.8)
        s.set_color('#333333')
    ax.set_yticks(yticks)
    ax.set_yticklabels(ylabels)
    ax.tick_params(axis='y', direction='out', length=3.6, width=0.7, color='#333333',
                   labelsize=tick_fs, labelcolor=txtc, pad=4.3, labelrotation=90)
    for t in ax.get_yticklabels():
        t.set_va('center')
    if xaxis:
        ax.set_xticks(xticks)
        ax.set_xticklabels([str(y) for y in tick_years])
        ax.tick_params(axis='x', direction='out', length=3.6, width=0.7, color='#333333',
                       labelsize=4.8, labelcolor=txtc, pad=7)
    else:
        ax.set_xticks([])
    ax.set_ylabel(ylab, fontsize=lab_fs, color=txtc)
    ax.yaxis.set_label_coords(-0.049, 0.5)
    return ax


# cases
ax = panel(1, 128, (-0.68, 17.68), [0, 5, 10, 15], ['0', '5', '10', '15'], 'Cases',
           tick_fs=4.8, xaxis=True)
ax.vlines(days, 0, cases, color='black', lw=0.45)
ax.hlines(0, days[0], days[-1], color='black', lw=0.9)

# temperature
ax = panel(175, 301.3, (9.6, 48.5), list(range(10, 50, 5)),
           ['10', '', '20', '', '30', '', '40', ''], 'T max & T min (°C)',
           tick_fs=5.8, lab_fs=6.0)
ax.plot(tmin.index, tmin.values, color='#4a52cf', lw=0.7)
ax.plot(tmax.index, tmax.values, 'o', ms=2.1, mew=0, color='#d01818')
ax.axhline(39.7, color='#444444', lw=0.9)

# visibility
ax = panel(347.7, 475, (-0.08, 14.15), list(range(0, 15, 2)),
           [str(v) for v in range(0, 15, 2)], 'Visibility(km)', tick_fs=4.5)
ax.plot(vis.index, vis.values, 'o', ms=2.1, mew=0, color='#a6a6a6')

# relative humidity
ax = panel(521.7, 648, (-3.7, 103.7), list(range(0, 101, 20)),
           [str(v) for v in range(0, 101, 20)], 'RH max & RH min(%)', tick_fs=4.4,
           xaxis=True)
ax.plot(rhmin.index, rhmin.values, color='#ebc92c', lw=0.7)
ax.plot(rhmax.index, rhmax.values, 'o', ms=2.1, mew=0, color='#7cf21a')

# wind
ax = panel(695, 821.7, (0.5, 7.6), list(range(1, 8)),
           [str(v) for v in range(1, 8)], 'Wind (m/s)', tick_fs=4.5, xaxis=True)
ax.plot(wind.index, wind.values, 'o', ms=2.1, mew=0, color='#7a2020')

# rainfall
ax = panel(868.3, 995, (-0.8, 20.8), [0, 5, 10, 15, 20],
           ['0', '5', '10', '15', '20'], 'Rainfall (mm)', tick_fs=4.5)
ax.plot(days, rain, 'o', ms=2.0, mew=0, color='#b0eefa')

fig.savefig('out.png', dpi=100)
